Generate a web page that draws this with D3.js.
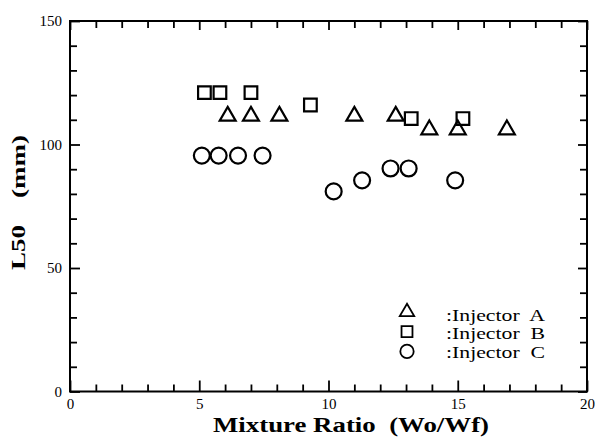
<!DOCTYPE html>
<html><head><meta charset="utf-8">
<script src="https://cdn.jsdelivr.net/npm/d3@7"></script>
<style>body{margin:0;background:#fff}svg{display:block}</style>
</head><body>
<svg id="c" width="595" height="437"></svg>
<script>
const injA = [[6.1,111.5],[7.0,111.5],[8.1,111.5],[11.0,111.5],[12.6,111.5],[13.9,106],[15.0,106],[16.9,106]];
const injB = [[5.2,121],[5.8,121],[7.0,121],[9.3,116],[13.2,110.5],[15.2,110.5]];
const injC = [[5.1,95.5],[5.75,95.5],[6.5,95.5],[7.45,95.5],[10.2,81],[11.3,85.5],[12.4,90.3],[13.1,90.3],[14.9,85.5]];
const xTicks = [0,5,10,15,20];
const yTicks = [0,50,100,150];
const legendLabels = [":Injector  A", ":Injector  B", ":Injector  C"];

const svg = d3.select("#c");
const L=70, R=587, T=21, B=391.5;
const x = d3.scaleLinear().domain([0,20]).range([L,R]);
const y = d3.scaleLinear().domain([0,150]).range([B,T]);
const font = "'Liberation Serif', 'Times New Roman', serif";

function styleAxis(g, minorLen, majorLen, isMajor){
  g.select(".domain").remove();
  g.selectAll(".tick line").attr("stroke","#000").attr("stroke-width",1.8);
  g.selectAll(".tick").each(function(d){
    const ln = d3.select(this).select("line");
    const len = isMajor(d) ? majorLen : minorLen;
    if (ln.attr("y2")!==null && +ln.attr("y2")!==0) ln.attr("y2", +ln.attr("y2")<0 ? -len : len);
    if (ln.attr("x2")!==null && +ln.attr("x2")!==0) ln.attr("x2", +ln.attr("x2")<0 ? -len : len);
  });
  g.selectAll("text").style("font-family",font).attr("font-size",15).attr("fill","#000");
}
const xMaj = d => xTicks.includes(d), yMaj = d => yTicks.includes(d);
const xAll = d3.range(0,21), yAll = d3.range(0,151,10);

svg.append("g").attr("transform",`translate(0,${B})`)
  .call(d3.axisBottom(x).tickValues(xAll).tickSize(-7).tickPadding(7).tickFormat(d=>xMaj(d)?d:""))
  .call(g=>styleAxis(g,7,11,xMaj));
svg.append("g").attr("transform",`translate(0,${T})`)
  .call(d3.axisTop(x).tickValues(xAll).tickSize(-7).tickFormat(""))
  .call(g=>styleAxis(g,7,9,xMaj));
svg.append("g").attr("transform",`translate(${L},0)`)
  .call(d3.axisLeft(y).tickValues(yAll).tickSize(-7).tickPadding(8).tickFormat(d=>yMaj(d)?d:""))
  .call(g=>styleAxis(g,7,10,yMaj));
svg.append("g").attr("transform",`translate(${R},0)`)
  .call(d3.axisRight(y).tickValues(yAll).tickSize(-7).tickFormat(""))
  .call(g=>styleAxis(g,7,9,yMaj));

svg.append("rect").attr("x",L).attr("y",T).attr("width",R-L).attr("height",B-T)
  .attr("fill","none").attr("stroke","#000").attr("stroke-width",2);

const symTri = d3.symbol().type(d3.symbolTriangle).size(110);
const symSq = d3.symbol().type(d3.symbolSquare).size(160);
const symCir = d3.symbol().type(d3.symbolCircle).size(200);
function plot(data, sym){
  svg.append("g").selectAll("path").data(data).join("path")
    .attr("d", sym).attr("transform", d=>`translate(${x(d[0])},${y(d[1])})`)
    .attr("fill","none").attr("stroke","#000").attr("stroke-width",2.2);
}
plot(injA, symTri); plot(injB, symSq); plot(injC, symCir);

// legend
const lg = svg.append("g");
const lsyms = [d3.symbol().type(d3.symbolTriangle).size(90), d3.symbol().type(d3.symbolSquare).size(120), d3.symbol().type(d3.symbolCircle).size(140)];
legendLabels.forEach((t,i)=>{
  lg.append("path").attr("d", lsyms[i]).attr("transform",`translate(407,${312 + i*19.7})`)
    .attr("fill","none").attr("stroke","#000").attr("stroke-width",1.8);
  lg.append("text").attr("x",446).attr("y",320.5 + i*18.5).style("font-family",font).attr("font-size",17)
    .attr("textLength",99).attr("lengthAdjust","spacingAndGlyphs")
    .style("white-space","pre").text(t);
});

svg.append("text").attr("x",213).attr("y",432)
  .style("font-family",font).attr("font-weight","bold").attr("font-size",20)
  .attr("textLength",276).attr("lengthAdjust","spacingAndGlyphs")
  .style("white-space","pre").text("Mixture Ratio  (Wo/Wf)");
svg.append("text").attr("transform","translate(25,270) rotate(-90)")
  .style("font-family",font).attr("font-weight","bold").attr("font-size",19)
  .attr("textLength",135).attr("lengthAdjust","spacingAndGlyphs")
  .style("white-space","pre").text("L50    (mm)");
</script>
</body></html>
